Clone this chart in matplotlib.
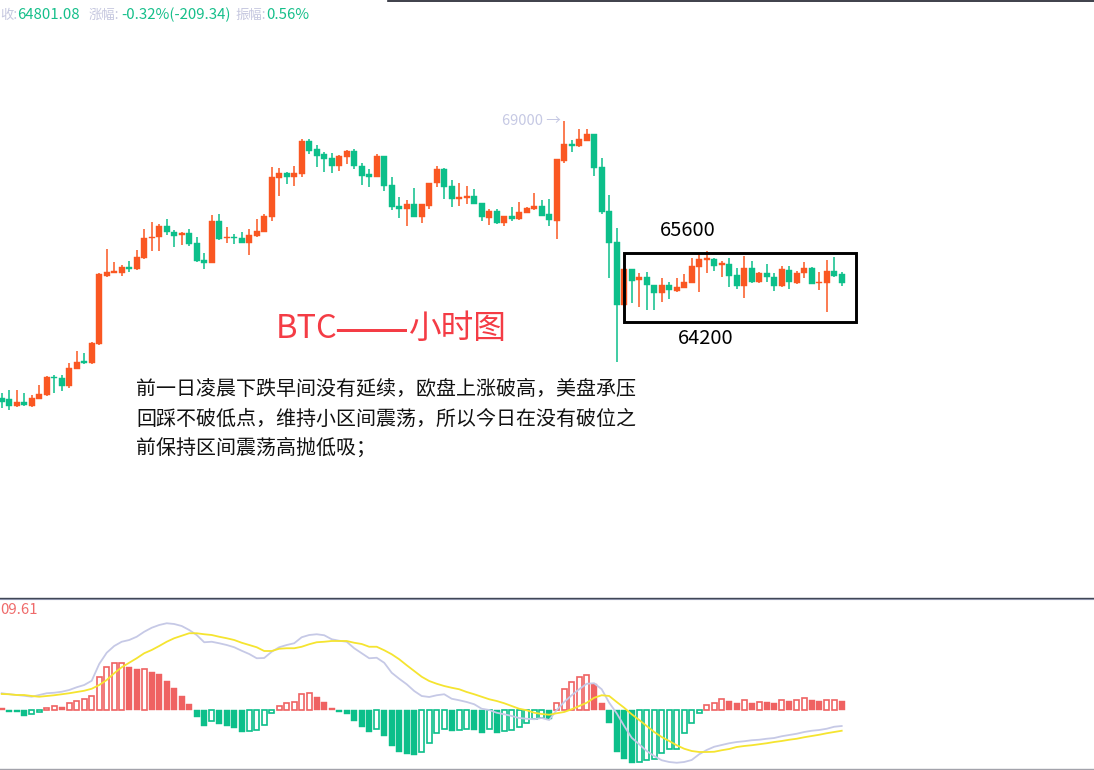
import matplotlib
matplotlib.use("Agg")
import matplotlib.pyplot as plt
from matplotlib.lines import Line2D
from matplotlib.patches import Rectangle

plt.rcParams['font.family'] = ['Noto Sans CJK SC', 'DejaVu Sans']

# ---------------- data (hourly BTC candles) ----------------
opens = [61789, 61763, 61590, 61694, 61590, 61772, 61876, 62352, 62326, 62118,
         62552, 62760, 62699, 63193, 64979, 65056, 65056, 65212, 65143, 65447,
         65949, 65975, 66270, 66123, 66036, 66079, 65819, 65386, 65317, 66400,
         65949, 65993, 65949, 65837, 66010, 66123, 66513, 67527, 67639, 67535,
         67622, 68489, 68263, 68133, 68029, 67839, 68073, 68229, 67830, 67622,
         67553, 68090, 67336, 66790, 66712, 66833, 66513, 66790, 67379, 67743,
         67310, 66972, 67007, 67050, 66859, 66487, 66660, 66357, 66530, 66452,
         66617, 66703, 66790, 66573, 66409, 67960, 68393, 68350, 68489, 68653,
         67813, 66660, 65845, 64216, 65143, 64866, 64935, 64736, 64519, 64736,
         64589, 64667, 64797, 65213, 65386, 65403, 65256, 65273, 64996, 64719,
         65169, 64805, 65039, 64935, 64719, 65126, 64779, 65039, 65169, 64779,
         64797, 65100, 65022]
highs = [61919, 62006, 62006, 61919, 61876, 62136, 62370, 62396, 62396, 62699,
         63028, 62959, 63245, 65056, 65663, 65343, 65256, 65369, 65646, 66183,
         66365, 66313, 66452, 66166, 66105, 66192, 65975, 65559, 66556, 66573,
         66235, 66053, 66105, 66192, 66452, 66573, 67813, 67769, 67683, 67830,
         68532, 68532, 68376, 68185, 68159, 68105, 68246, 68263, 67917, 67752,
         68133, 68095, 67553, 67033, 66946, 67267, 66840, 67397, 67830, 67769,
         67466, 67397, 67310, 67223, 66877, 66703, 66703, 66535, 66773, 66885,
         66773, 67119, 66946, 66963, 68010, 69000, 68506, 68783, 68783, 68660,
         68029, 67076, 66227, 65150, 65150, 65039, 65065, 64745, 64909, 64805,
         64909, 65013, 65447, 65516, 65620, 65447, 65360, 65447, 65169, 65490,
         65360, 65083, 65273, 65057, 65230, 65230, 65100, 65343, 65213, 65083,
         65386, 65473, 65083]
lows = [61529, 61486, 61572, 61590, 61555, 61765, 61859, 61936, 61988, 62049,
        62543, 62673, 62673, 63176, 64953, 65039, 64979, 65083, 65126, 65403,
        65629, 65629, 66036, 65733, 65776, 65759, 65325, 65143, 65299, 65906,
        65837, 65793, 65830, 65516, 65993, 66105, 66400, 67050, 67353, 67310,
        67553, 68142, 67813, 67683, 67657, 67709, 67882, 67752, 67336, 67293,
        67535, 67189, 66686, 66469, 66270, 66495, 66357, 66703, 67275, 66963,
        66773, 66799, 66833, 66833, 66409, 66296, 66322, 66279, 66409, 66426,
        66599, 66686, 66530, 66279, 65923, 67917, 68185, 68333, 68480, 67579,
        66582, 64909, 62742, 64190, 64259, 64155, 64086, 64086, 64303, 64372,
        64563, 64649, 64779, 64563, 65039, 65109, 64953, 64693, 64632, 64407,
        64779, 64779, 64823, 64589, 64693, 64632, 64753, 64909, 64753, 64606,
        64043, 64953, 64710]
closes = [61702, 61590, 61694, 61607, 61806, 61893, 62352, 62309, 62118, 62586,
          62742, 62699, 63236, 65022, 65074, 65100, 65212, 65152, 65473, 65967,
          65993, 66270, 66105, 66019, 66097, 65793, 65369, 65317, 66400, 65932,
          65993, 65949, 65837, 66036, 66140, 66530, 67535, 67639, 67535, 67657,
          68489, 68229, 68099, 68003, 67839, 68099, 68229, 67830, 67570, 67535,
          68090, 67310, 66773, 66703, 66833, 66513, 66833, 67379, 67743, 67293,
          66972, 67033, 67050, 66842, 66495, 66660, 66339, 66530, 66452, 66625,
          66747, 66790, 66539, 66426, 68003, 68393, 68350, 68523, 68653, 67787,
          66643, 65837, 64216, 65143, 64849, 64935, 64736, 64519, 64736, 64606,
          64675, 64805, 65230, 65403, 65429, 65239, 65317, 64979, 64719, 65169,
          64805, 65039, 64935, 64719, 65143, 64805, 65057, 65169, 64762, 64823,
          65100, 64979, 64801]

# MACD panel
dif = [67, 63, 60, 57, 53, 60, 67, 69, 73, 80,
       91, 100, 117, 184, 229, 256, 273, 280, 293, 313,
       329, 340, 347, 344, 336, 320, 300, 271, 273, 267,
       260, 251, 237, 224, 207, 208, 233, 251, 260, 267,
       291, 300, 303, 299, 283, 277, 273, 247, 227, 207,
       209, 189, 149, 125, 103, 76, 56, 52, 59, 63,
       45, 39, 32, 23, 5, 0, -11, -17, -24, -32,
       -35, -37, -32, -40, 0, 32, 59, 83, 105, 107,
       83, 29, -13, -64, -111, -137, -164, -184, -201, -208,
       -211, -208, -200, -177, -160, -147, -140, -133,
       -128, -125, -121, -119, -115, -112, -105, -100, -95, -88,
       -83, -80, -75, -67, -64]
dea = [64, 63, 60, 60, 56, 53, 56, 59, 63, 67,
       72, 77, 85, 100, 120, 147, 171, 189, 207, 227,
       240, 256, 273, 287, 297, 307, 307, 303, 300, 293,
       287, 280, 269, 260, 251, 236, 236, 245, 247, 247,
       253, 263, 271, 273, 276, 276, 276, 269, 264, 253,
       253, 239, 223, 203, 179, 156, 133, 116, 105, 96,
       89, 83, 72, 63, 53, 43, 36, 27, 16, 5,
       -1, -11, -16, -19, -13, -8, 3, 16, 29, 49,
       59, 56, 32, 9, -17, -40, -64, -88, -108, -124,
       -141, -155, -164, -168, -168, -167, -161, -156,
       -148, -144, -141, -137, -133, -128, -124, -119, -115, -109,
       -104, -99, -93, -88, -83]
hist = [9, -7, -9, -23, -16, -9, 9, 16, 13, 27,
        36, 43, 56, 131, 171, 187, 188, 171, 163, 164,
        153, 143, 117, 87, 56, 23, -27, -63, -44, -57,
        -63, -71, -87, -84, -80, -60, -13, 16, 27, 31,
        63, 67, 53, 31, 9, -9, -17, -43, -69, -89,
        -77, -104, -144, -168, -175, -180, -168, -133, -93, -77,
        -84, -81, -77, -79, -93, -77, -93, -84, -81, -67,
        -51, -37, -31, -37, 29, 85, 112, 133, 139, 103,
        29, -53, -168, -197, -213, -207, -201, -197, -173, -155,
        -154, -93, -51, -13, 19, 29, 45, 37,
        29, 39, 29, 33, 33, 29, 39, 36, 39, 49,
        39, 36, 39, 40, 36]

header_labels = ["收:", "涨幅:", "振幅:"]
header_values = ["64801.08", "-0.32%(-209.34)", "0.56%"]
high_mark = 69000
box_top_label = "65600"
box_bottom_label = "64200"
title_parts = ["BTC", "—", "—", "小时图"]
comment_lines = ["前一日凌晨下跌早间没有延续，欧盘上涨破高，美盘承压",
                 "回踩不破低点，维持小区间震荡，所以今日在没有破位之",
                 "前保持区间震荡高抛低吸；"]
macd_label = "09.61"

# ---------------- style ----------------
UP = '#fa5722'
DOWN = '#0cbf8a'
HRED = '#ef6262'
HGREEN = '#0cbf8a'
TITLE_RED = '#f43c45'

W, H = 1094, 770
fig = plt.figure(figsize=(W / 100, H / 100), dpi=100)
fig.patch.set_facecolor('white')

def fx(px):
    return px / W

def fy(py):
    return 1 - py / H

# pixel mapping of candle index: x = 1.7 + 7.5 * i
x0 = (0 - 1.7) / 7.5
x1 = (W - 1.7) / 7.5

ax = fig.add_axes([0, fy(597), 1, 597 / H])
ax.set_xlim(x0, x1)
ax.set_ylim(56624, 72146)
ax.axis('off')

n = len(closes)
bw = 0.76
min_h = 26 * 1.0
for i in range(n):
    o, h, l, c = opens[i], highs[i], lows[i], closes[i]
    col = UP if c >= o else DOWN
    ax.vlines(i, l, h, color=col, lw=1.1, zorder=2)
    bot = min(o, c)
    hgt = max(abs(c - o), min_h)
    ax.bar(i, hgt, bottom=bot, width=bw, color=col, edgecolor=col, lw=0.3, zorder=3)

# high marker
imax = highs.index(max(highs))
ax.text(imax - 0.45, high_mark, f"{high_mark} →", ha='right', va='center',
        fontsize=10.5, color='#c6c9e4', zorder=4)

# range box
bx0 = (624 - 1.7) / 7.5
bx1 = (856 - 1.7) / 7.5
by_top = 69000 - (253 - 121) * 26
by_bot = 69000 - (322 - 121) * 26
ax.add_patch(Rectangle((bx0, by_bot), bx1 - bx0, by_top - by_bot, fill=False,
                       edgecolor='black', lw=2.1, zorder=5))

fig.text(fx(688), fy(231), box_top_label, ha='center', va='center', fontsize=14.5, color='black')
fig.text(fx(706), fy(339), box_bottom_label, ha='center', va='center', fontsize=14.5, color='black')

# title (pieces so that the long dash is continuous)
fig.text(fx(276), fy(338), title_parts[0], ha='left', va='baseline', fontsize=23.5, color=TITLE_RED)
fig.text(fx(334), fy(341), title_parts[1], ha='left', va='baseline', fontsize=28,
         color=TITLE_RED, family=['DejaVu Sans'])
fig.text(fx(369), fy(341), title_parts[2], ha='left', va='baseline', fontsize=28,
         color=TITLE_RED, family=['DejaVu Sans'])
fig.text(fx(409), fy(338), title_parts[3], ha='left', va='baseline', fontsize=23.5, color=TITLE_RED)

# comment
for k, line in enumerate(comment_lines):
    fig.text(fx(136), fy(390 + 29 * k), line, ha='left', va='center', fontsize=14.4, color='#111111')

# header
lab_x = [0, 89, 235]
val_x = [17, 121, 266]
for lx, vx, lab, val in zip(lab_x, val_x, header_labels, header_values):
    fig.text(fx(lx), fy(15), lab, ha='left', va='center', fontsize=9.6, color='#c5c7df')
    fig.text(fx(vx), fy(15), val, ha='left', va='center', fontsize=10.8, color='#15bf8a')

# ---------------- MACD ----------------
ax2 = fig.add_axes([0, fy(768), 1, (768 - 600) / H])
ax2.set_xlim(x0, x1)
ax2.set_ylim((710 - 768) * 4, (710 - 600) * 4)
ax2.axis('off')

idx = list(range(len(hist)))
for i, v in enumerate(hist):
    col = HRED if v >= 0 else HGREEN
    hollow = i > 0 and v > hist[i - 1]
    if hollow:
        ax2.bar(i, v, width=bw - 0.12, facecolor='white', edgecolor=col, lw=1.2, zorder=2)
    else:
        ax2.bar(i, v, width=bw, facecolor=col, edgecolor=col, lw=0.3, zorder=2)

ax2.plot(idx, dif, color='#c6c9e6', lw=1.3, zorder=3)
ax2.plot(idx, dea, color='#f5e430', lw=1.3, zorder=3)

fig.text(fx(0), fy(610), macd_label, ha='left', va='center', fontsize=10.8, color='#ef6a6a')

# ---------------- frame lines ----------------
fig.add_artist(Line2D([fx(388), 1], [fy(0.6), fy(0.6)], color='#1c1f2b', lw=1.2))
fig.add_artist(Line2D([0, 1], [fy(598), fy(598)], color='#3c4352', lw=1.0))
fig.add_artist(Line2D([0, 1], [fy(599.3), fy(599.3)], color='#8a90a8', lw=0.8))
fig.add_artist(Line2D([0, 1], [fy(769), fy(769)], color='#a3a3ab', lw=1.0))

fig.savefig('out.png', dpi=100)
